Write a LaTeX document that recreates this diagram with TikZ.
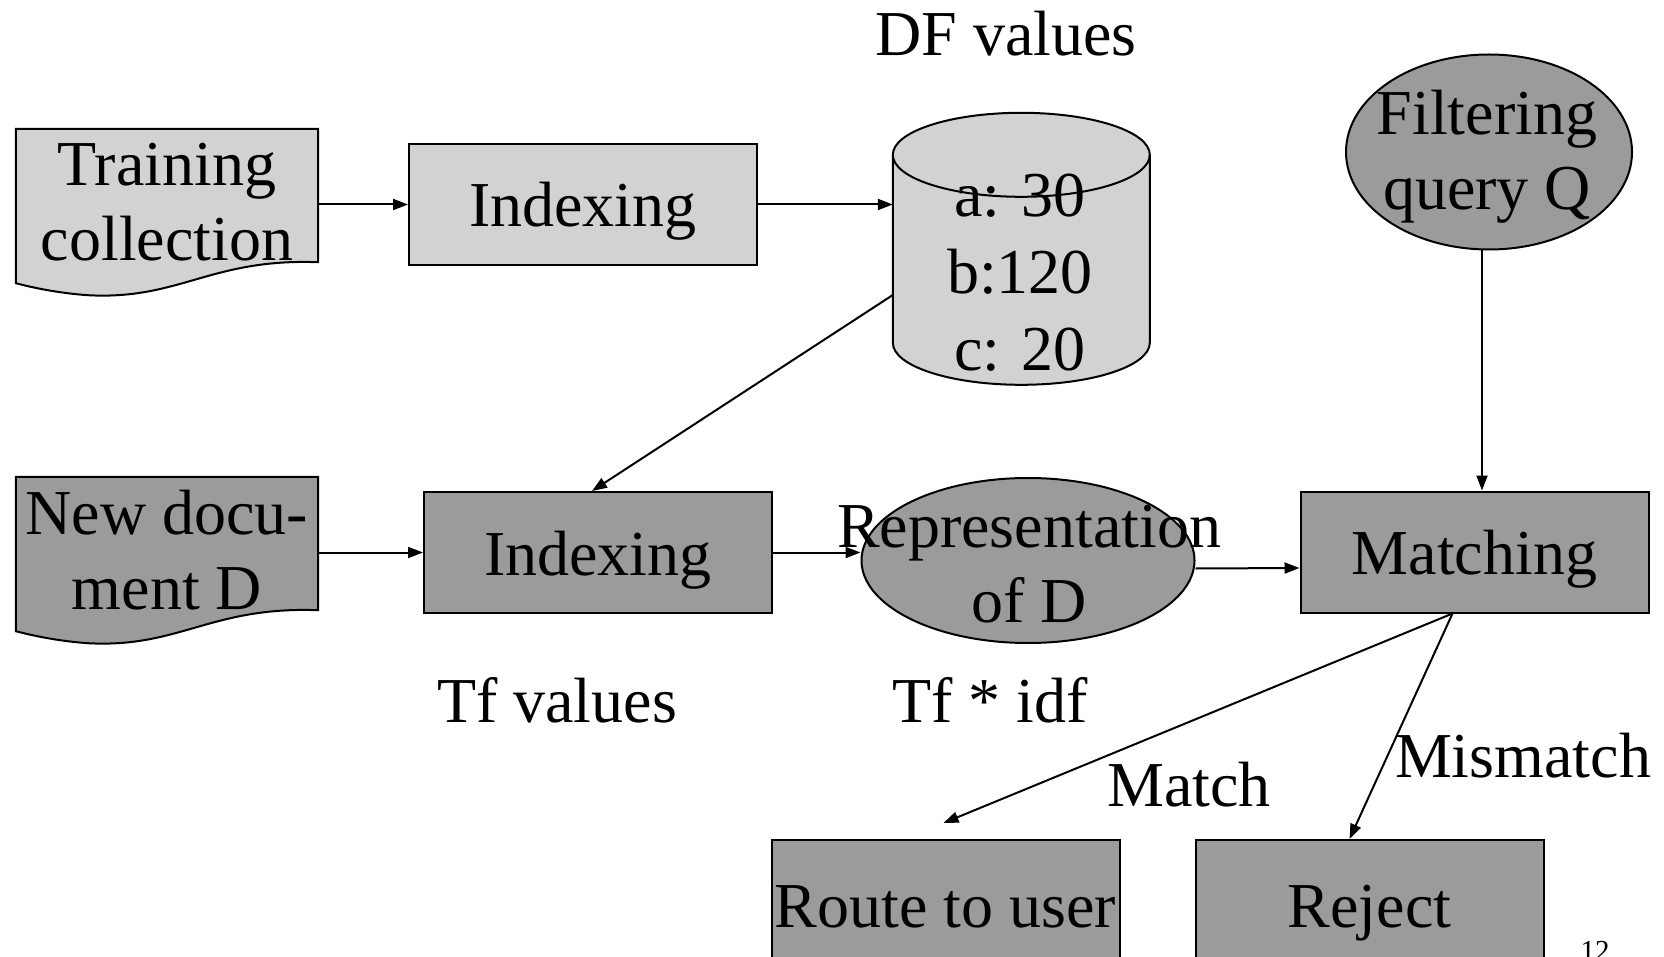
\documentclass[tikz,border=0pt]{standalone}
\usepackage{fontspec}
\setmainfont{Liberation Serif}
\usetikzlibrary{arrows.meta,calc,positioning,shapes.geometric,backgrounds}
\definecolor{grigiochiaro}{RGB}{210,210,210}
\definecolor{grigioscuro}{RGB}{155,155,155}

\begin{document}
\begin{tikzpicture}[x=1pt,y=-1pt,
  every node/.style={font=\fontsize{64}{75}\selectfont, inner sep=0pt},
  blocco/.style={draw, line width=2pt, minimum width=348pt, minimum height=121pt, text height=58pt, text depth=13pt},
  ovale/.style={ellipse, draw, line width=2pt, fill=grigioscuro},
  foglio/.style={minimum width=302pt, minimum height=133pt},
  freccia/.style={line width=2pt, -{Triangle[length=15pt,width=11pt]}}]
\useasboundingbox (0,0) rectangle (1664,957);
\node[foglio] (train) at (167,195.5) {};
\node[align=center] (traintxt) at (167,202) {Training\\collection};
\node[blocco, fill=grigiochiaro] (idx1) at (583,204.5) {Indexing};
\node[minimum width=257pt, minimum height=272pt] (dfdb) at (1021.5,249) {};
\node[align=center, font=\fontsize{64}{77}\selectfont] (dfvals) at (1020,273) {a: 30\\b:120\\c: 20};
\node (dflab) at (1006,34) {DF values};
\node[ovale, minimum width=286pt, minimum height=195pt] (filt) at (1489,152) {};
\node[align=center] (filttxt) at (1487,157) {Filtering\\query Q};
\node[foglio] (newdoc) at (167,543.5) {};
\node[align=center] (newdoctxt) at (167,550) {New docu-\\ment D};
\node[blocco, fill=grigioscuro] (idx2) at (598,552.5) {Indexing};
\node[ovale, minimum width=333pt, minimum height=165pt] (repr) at (1028,560.5) {};
\node[align=center] (reprtxt) at (1029,564) {Representation\\of D};
\node[blocco, fill=grigioscuro] (match) at (1474.5,552) {Matching};
\node (tflab) at (557,700) {Tf values};
\node (tfidf) at (990,700) {Tf * idf};
\node[blocco, fill=grigioscuro, minimum height=130pt] (route) at (945.5,905) {Route to user};
\node[blocco, fill=grigioscuro, minimum height=130pt] (reject) at (1369.5,905) {Reject};
\node (matchlab) at (1189,785) {Match};
\node (mismlab) at (1523,756) {Mismatch};
\node[font=\fontsize{29}{32}\selectfont, anchor=base] (pagnum) at (1595,960) {12};
% fogli e cilindro
\begin{scope}[on background layer]
\foreach \doc/\col in {train/grigiochiaro, newdoc/grigioscuro}
  \draw[line width=2pt, fill=\col] ($(\doc.south west)+(0,21)$) -- (\doc.north west) -- (\doc.north east) -- (\doc.south east)
    .. controls +(-108,-4) and +(92,5) .. ($(\doc.south west)+(72,33)$)
    .. controls +(-28,-2) and +(19,5) .. ($(\doc.south west)+(0,21)$) -- cycle;
\draw[line width=2pt, fill=grigiochiaro] ($(dfdb.north west)+(0,42)$) -- ++(0,188)
  arc[start angle=180, end angle=0, x radius=128.5, y radius=42] -- ++(0,-188)
  arc[start angle=0, end angle=-180, x radius=128.5, y radius=42] -- cycle;
\draw[line width=2pt] ($(dfdb.north west)+(0,42)$) arc[start angle=180, end angle=0, x radius=128.5, y radius=42];
\end{scope}
% collegamenti
\draw[freccia] (train.east |- idx1) -- (idx1.west);
\draw[freccia] (idx1.east) -- (idx1.east -| dfdb.west);
\draw[freccia] ($(dfdb.west)+(0,46)$) -- ($(idx2.north)+(-6,0)$);
\draw[freccia] (newdoc.east |- idx2) -- (idx2.west);
\draw[freccia] (idx2.east) -- (idx2.east -| repr.west);
\draw[freccia] ($(repr.east)+(0,8)$) -- ($(match.west)+(0,16)$);
\draw[freccia] ($(filt.south)+(-7,0)$) -- ($(match.north)+(7.5,0)$);
\coordinate (msplit) at ($(match.south)+(-22,0)$);
\draw[freccia] (msplit) -- ($(route.north)+(-2,-16)$);
\draw[freccia] (msplit) -- ($(reject.north)+(-20,0)$);
\end{tikzpicture}
\end{document}
